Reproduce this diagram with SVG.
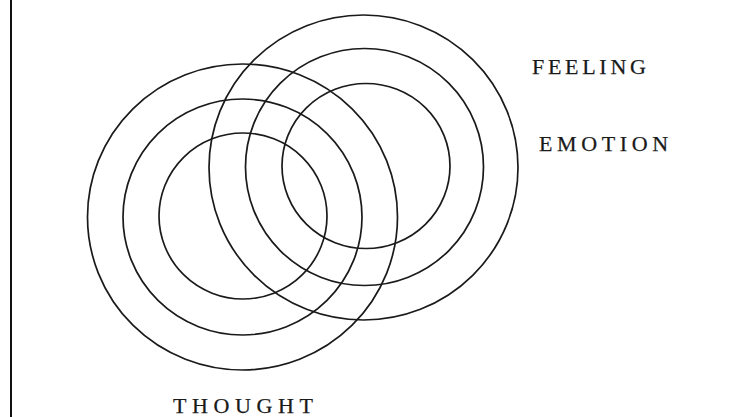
<svg xmlns="http://www.w3.org/2000/svg" width="748" height="417" viewBox="0 0 748 417">
<style>
.ring{fill:none;stroke:#1a1a1a;stroke-width:1.7}
.lbl{font-family:"Liberation Serif","Times New Roman",serif;font-size:22px;fill:#1a1a1a;stroke:#1a1a1a;stroke-width:0.25}
</style>
<rect x="0" y="0" width="748" height="417" fill="#ffffff"/>
<line x1="11" y1="0" x2="11" y2="417" stroke="#111" stroke-width="2"/>
<g id="thought">
<ellipse class="ring" cx="242.5" cy="217" rx="155" ry="153"/>
<ellipse class="ring" cx="242.5" cy="217" rx="119.5" ry="118"/>
<ellipse class="ring" cx="243" cy="216" rx="84" ry="83"/>
<text class="lbl" x="173" y="413" letter-spacing="5.6">THOUGHT</text>
</g>
<g id="feeling">
<ellipse class="ring" cx="363.5" cy="167.5" rx="154.5" ry="152.5"/>
<ellipse class="ring" cx="364.5" cy="167" rx="119" ry="118.5"/>
<ellipse class="ring" cx="366" cy="166" rx="84" ry="82.5"/>
<text class="lbl" x="532" y="74" letter-spacing="3.7">FEELING</text>
</g>
<g id="emotion">
<text class="lbl" x="539" y="151" letter-spacing="4.6">EMOTION</text>
</g>
<g id="connectors"></g>
</svg>
